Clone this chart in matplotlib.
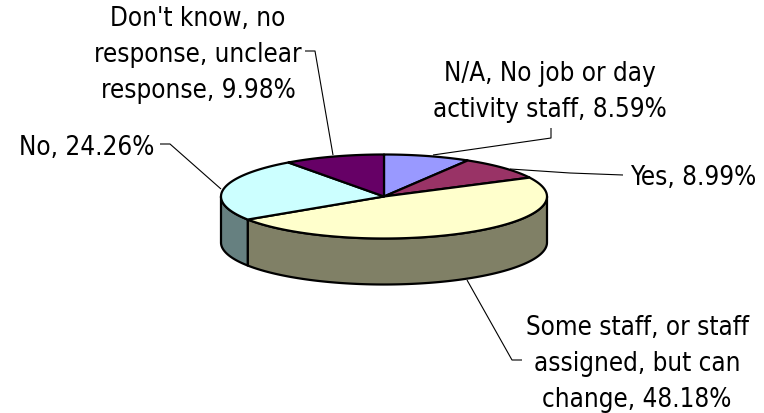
#!/usr/bin/env python

import numpy as np
import matplotlib
matplotlib.use('Agg')
import matplotlib.pyplot as plt
from matplotlib.patches import Polygon

labels = ['N/A, No job or day\nactivity staff, 8.59%',
          'Yes, 8.99%',
          'Some staff, or staff\nassigned, but can\nchange, 48.18%',
          'No, 24.26%',
          "Don't know, no\nresponse, unclear\nresponse, 9.98%"]
values = [8.59, 8.99, 48.18, 24.26, 9.98]
top_colors = ['#9999FF', '#993366', '#FFFFCC', '#CCFFFF', '#660066']
side_colors = ['#666680', '#66334D', '#808066', '#668080', '#4D004D']

# pixel layout of the fake 3d pie
CX, CY = 384, 197.5
RX, RY = 163, 42
DEPTH = 46
EDGE = 1.6


def rim(a0, a1, n=120):
    '''Points on the top rim, angles in degrees clockwise from 12 o'clock'''
    t = np.radians(np.linspace(a0, a1, n))
    return CX + RX * np.sin(t), CY - RY * np.cos(t)


def draw_side(ax, a0, a1, color):
    x, y = rim(a0, a1)
    pts = np.r_[np.c_[x, y], np.c_[x, y + DEPTH][::-1]]
    ax.add_patch(Polygon(pts, closed=True, fc=color, ec='black', lw=EDGE,
                         joinstyle='round'))


def draw_top(ax, a0, a1, color):
    x, y = rim(a0, a1)
    pts = np.r_[[[CX, CY]], np.c_[x, y]]
    ax.add_patch(Polygon(pts, closed=True, fc=color, ec='black', lw=EDGE,
                         joinstyle='round'))


fig = plt.figure(figsize=(7.64, 4.14), dpi=100)
ax = fig.add_axes([0, 0, 1, 1])
ax.set_xlim(0, 764)
ax.set_ylim(414, 0)
ax.axis('off')

bounds = np.r_[0, np.cumsum(values)] / np.sum(values) * 360

# walls first, only the front half of the rim shows
for i in range(len(values)):
    a0, a1 = max(bounds[i], 90), min(bounds[i + 1], 270)
    if a0 < a1:
        draw_side(ax, a0, a1, side_colors[i])

for i in range(len(values)):
    draw_top(ax, bounds[i], bounds[i + 1], top_colors[i])

# leader lines
leaders = [
    ([433, 551, 551], [156, 139, 129]),
    ([510, 570, 623], [170, 174, 176]),
    ([467, 512, 522], [281, 361, 361]),
    ([160, 170, 221], [145, 145, 190]),
    ([305, 315, 333], [52, 52, 156]),
]
for lx, ly in leaders:
    ax.plot(lx, ly, color='black', lw=0.8, solid_capstyle='butt')

# label centre positions
label_pos = [(550, 92), (693.5, 178), (637, 364), (86.5, 148), (198, 55)]
for text, (tx, ty) in zip(labels, label_pos):
    ax.text(tx, ty, text, ha='center', va='center', fontsize=18.6,
            family='DejaVu Sans', stretch='condensed', linespacing=1.5,
            color='black')

fig.savefig('out.png', dpi=100)
